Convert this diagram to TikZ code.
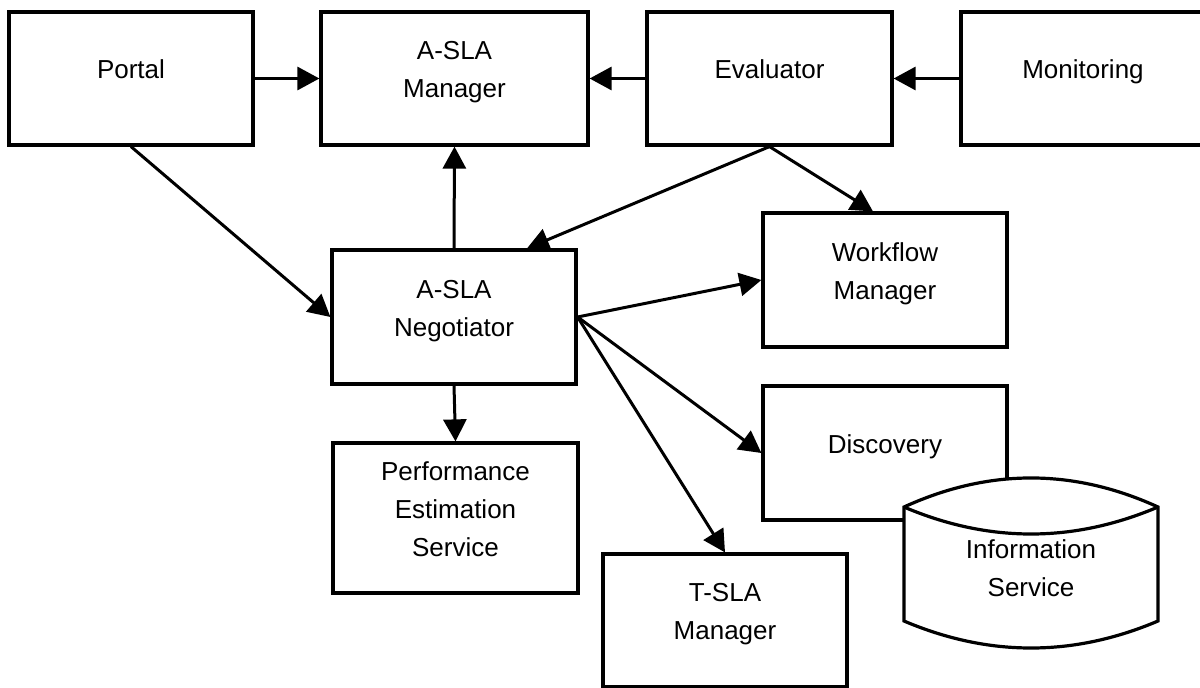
\documentclass[tikz,border=0pt]{standalone}
\usepackage{fontspec}
\setmainfont{Liberation Sans}
\usetikzlibrary{arrows.meta}
\begin{document}
\begin{tikzpicture}[x=1pt,y=-1pt,
  box/.style={draw, line width=3.2pt, fill=white, inner sep=0pt,
              minimum width=244pt, minimum height=133pt},
  lbl/.style={align=center, inner sep=0pt, text depth=0pt,
              font=\fontsize{26}{38}\selectfont},
  link/.style={line width=3pt, -{Triangle[length=22pt,width=23pt]}}]
  \clip (0,0) rectangle (1200,688);
  \fill[white] (0,0) rectangle (1200,688);

  % components
  \node[box] (portal) at (131,78.5) {};
  \node[box, minimum width=267pt] (mgr) at (454.5,78.5) {};
  \node[box, minimum width=245pt] (eval) at (769.5,78.5) {};
  \node[box] (mon) at (1083,78.5) {};
  \node[box, minimum height=134pt] (wf) at (885,280) {};
  \node[box, minimum height=134pt] (neg) at (454,317) {};
  \node[box, minimum height=134pt] (disc) at (885,453) {};
  \node[box, minimum width=245pt, minimum height=150pt] (pes) at (455.5,518) {};
  \node[box] (tsla) at (725,620.5) {};

  % labels, set a little above the box centres
  \node[lbl] (portalT) at ([yshift=9pt]portal.center) {Portal};
  \node[lbl] (mgrT) at ([yshift=9pt]mgr.center) {A-SLA\\Manager};
  \node[lbl] (evalT) at ([yshift=9pt]eval.center) {Evaluator};
  \node[lbl] (monT) at ([yshift=9pt]mon.center) {Monitoring};
  \node[lbl] (wfT) at ([yshift=9pt]wf.center) {Workflow\\Manager};
  \node[lbl] (negT) at ([yshift=9pt]neg.center) {A-SLA\\Negotiator};
  \node[lbl] (discT) at ([yshift=9pt]disc.center) {Discovery};
  \node[lbl] (pesT) at ([yshift=9pt]pes.center) {Performance\\Estimation\\Service};
  \node[lbl] (tslaT) at ([yshift=9pt]tsla.center) {T-SLA\\Manager};

  % information service store
  \draw[line width=3.2pt, fill=white]
    (904,507) .. controls (988.7,468.3) and (1073.3,468.3) .. (1158,507)
    -- (1158,621) .. controls (1073.3,657) and (988.7,657) .. (904,621) -- cycle;
  \draw[line width=3.2pt]
    (904,507) .. controls (988.7,543) and (1073.3,543) .. (1158,507);
  \node[lbl] (info) at (1031,568) {Information\\Service};

  % flows
  \draw[link] (portal.east) -- (mgr.west);
  \draw[link] (eval.west) -- (mgr.east);
  \draw[link] (mon.west) -- (eval.east);
  \draw[link] (portal.south) -- (neg.west);
  \draw[link] (neg.north) -- (mgr.south);
  \draw[link] (eval.south) -- ([xshift=73pt]neg.north);
  \draw[link] (eval.south) -- ([xshift=-12pt]wf.north);
  \draw[link] (neg.east) -- (wf.west);
  \draw[link] (neg.east) -- (disc.west);
  \draw[link] (neg.east) -- (tsla.north);
  \draw[link] (neg.south) -- (pes.north);
\end{tikzpicture}
\end{document}
